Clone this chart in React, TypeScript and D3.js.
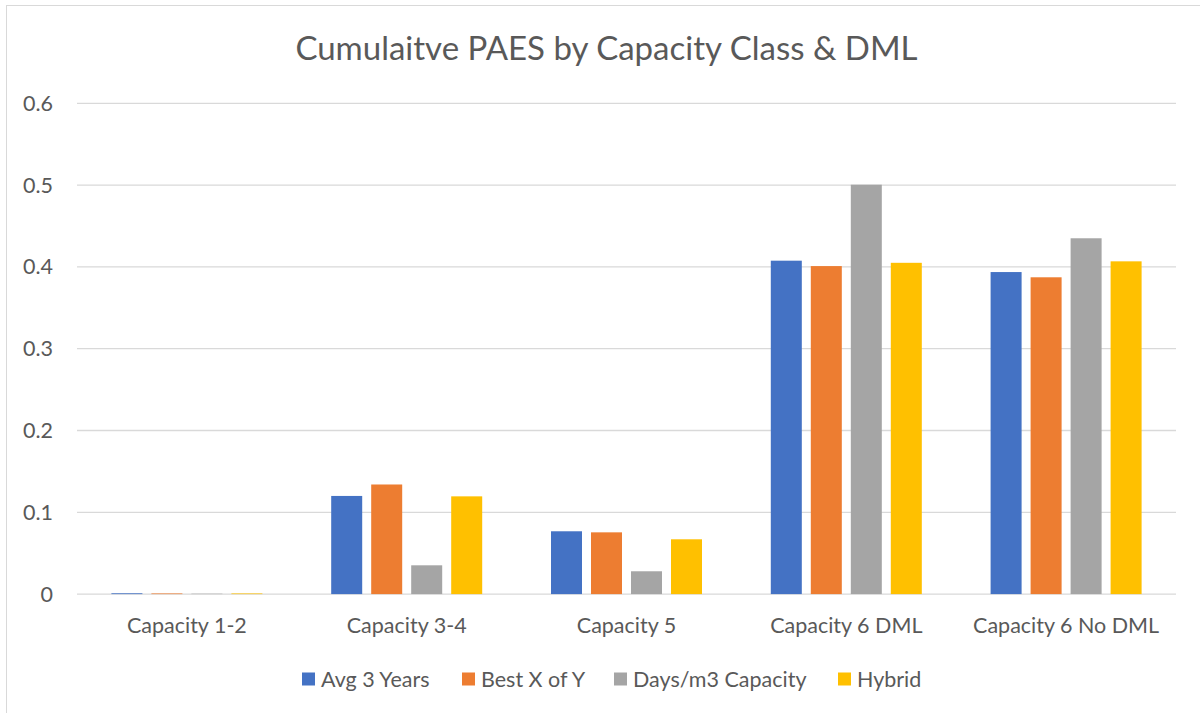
import React from "react";
import * as d3 from "d3";

const categories = ["Capacity 1-2", "Capacity 3-4", "Capacity 5", "Capacity 6 DML", "Capacity 6 No DML"];
const seriesNames = ["Avg 3 Years", "Best X of Y", "Days/m3 Capacity", "Hybrid"];
const seriesColors = ["#4472C4", "#ED7D31", "#A5A5A5", "#FFC000"];
const avg3Years = [0.001, 0.12, 0.0768, 0.4076, 0.3937];
const bestXofY = [0.0008, 0.134, 0.0755, 0.401, 0.3873];
const daysM3Capacity = [0.0005, 0.0352, 0.0279, 0.5005, 0.435];
const hybrid = [0.0008, 0.1195, 0.067, 0.405, 0.4068];
const yTicks = [0, 0.1, 0.2, 0.3, 0.4, 0.5, 0.6];
const title = "Cumulaitve PAES by Capacity Class & DML";

const seriesValues = [avg3Years, bestXofY, daysM3Capacity, hybrid];

const W = 1200;
const H = 713;
const FONT = "Lato, 'Open Sans', sans-serif";
const TEXT = "#595959";
const LABEL = 21.5;

export default function App() {
  const x0 = d3.scaleBand<string>().domain(categories).range([77, 1176]).padding(0);
  const groupW = x0.bandwidth() * 0.687;
  const groupOff = (x0.bandwidth() - groupW) / 2;
  const x1 = d3
    .scaleBand<string>()
    .domain(seriesNames)
    .range([groupOff, groupOff + groupW])
    .paddingInner(0.225)
    .paddingOuter(0);
  const y = d3.scaleLinear().domain([0, 0.6]).range([594.1, 103.3]);
  const fmt = d3.format("");

  // legend layout
  const legendWidths = [110, 102, 174, 63];
  const sq = 13;
  const sqGap = 6;
  const itemGap = 31;
  const legendStart = 302;
  let cursor = legendStart;
  const legendItems = seriesNames.map((name, i) => {
    const item = { name, color: seriesColors[i], x: cursor, w: legendWidths[i] };
    cursor += sq + sqGap + legendWidths[i] + itemGap;
    return item;
  });

  return (
    <div style={{ position: "fixed", left: 0, top: 0 }}>
      <svg width={W} height={H} style={{ display: "block", background: "#fff" }}>
        <rect x={0} y={0} width={W} height={H} fill="#fff" />
        <rect x={6.5} y={5.5} width={W + 20} height={H + 20} fill="none" stroke="#D9D9D9" strokeWidth={1} />
        <text x={606.5} y={60} textAnchor="middle" fontFamily={FONT} fontSize={33} fill={TEXT}>
          {title}
        </text>
        {yTicks.map((t) => (
          <g key={t}>
            <line x1={77} x2={1176} y1={y(t)} y2={y(t)} stroke="#D9D9D9" strokeWidth={1.3} />
            <text x={53} y={y(t)} dy="0.35em" textAnchor="end" fontFamily={FONT} fontSize={LABEL} fill={TEXT}>
              {fmt(t)}
            </text>
          </g>
        ))}
        {categories.map((c, ci) => (
          <g key={c} transform={`translate(${x0(c)},0)`}>
            {seriesNames.map((s, si) => {
              const v = seriesValues[si][ci];
              return (
                <rect
                  key={s}
                  x={x1(s)}
                  y={y(v)}
                  width={x1.bandwidth()}
                  height={y(0) - y(v)}
                  fill={seriesColors[si]}
                />
              );
            })}
            <text
              x={x0.bandwidth() / 2}
              y={632.5}
              textAnchor="middle"
              fontFamily={FONT}
              fontSize={LABEL}
              fill={TEXT}
            >
              {c}
            </text>
          </g>
        ))}
        {legendItems.map((it) => (
          <g key={it.name}>
            <rect x={it.x} y={672.5} width={sq} height={sq} fill={it.color} />
            <text x={it.x + sq + sqGap} y={687} fontFamily={FONT} fontSize={LABEL} fill={TEXT}>
              {it.name}
            </text>
          </g>
        ))}
      </svg>
    </div>
  );
}
